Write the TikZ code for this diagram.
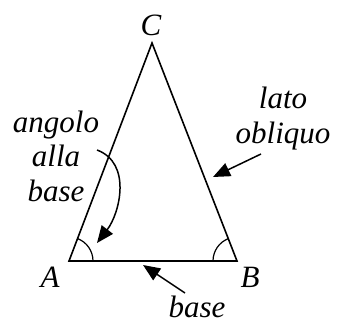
\documentclass[tikz,border=0pt]{standalone}
\usepackage{fontspec}
\setmainfont{Liberation Serif}
\usetikzlibrary{arrows.meta}
\tikzset{
  lbl/.style={font=\fontsize{31}{34.5}\selectfont\itshape, inner sep=0pt},
  side/.style={line width=1.6pt, line join=miter},
  pointer/.style={line width=1.5pt, -{Triangle[length=17pt,width=14pt]}},
}
\begin{document}
\begin{tikzpicture}[x=1pt,y=1pt]
  \useasboundingbox (0,0) rectangle (347,325);
  % vertices of the triangle
  \coordinate (A) at (69,64);
  \coordinate (B) at (237,64);
  \coordinate (C) at (152,282);
  \draw[side] (A) -- (B) -- (C) -- cycle;
  % base angles
  \draw[line width=1.2pt] (A) ++(24,0) arc[start angle=0,end angle=69.2,radius=24];
  \draw[line width=1.2pt] (B) ++(-24,0) arc[start angle=180,end angle=111.3,radius=24];
  % vertex labels
  \node[lbl,anchor=base] (labA) at (50,38) {A};
  \node[lbl,anchor=base] (labB) at (250,38) {B};
  \node[lbl,anchor=base] (labC) at (151,290) {C};
  % side labels (base anchor = last line)
  \node[lbl,anchor=base] (base) at (197,8) {base};
  \node[lbl,anchor=base,align=center] (lato) at (283,182) {lato\\obliquo};
  \node[lbl,anchor=base,align=center] (angolo) at (56,124) {angolo\\alla\\base};
  % arrow end points
  \coordinate (latoT) at (261,171);
  \coordinate (latoH) at (213,148);
  \coordinate (baseT) at (185,32);
  \coordinate (baseH) at (143,60);
  \coordinate (angT) at (97,175);
  \coordinate (angH) at (97,82);
  \draw[pointer] (latoT) -- (latoH);
  \draw[pointer] (baseT) -- (baseH);
  \draw[pointer] (angT) .. controls (132,162) and (120,112) .. (angH);
\end{tikzpicture}
\end{document}
